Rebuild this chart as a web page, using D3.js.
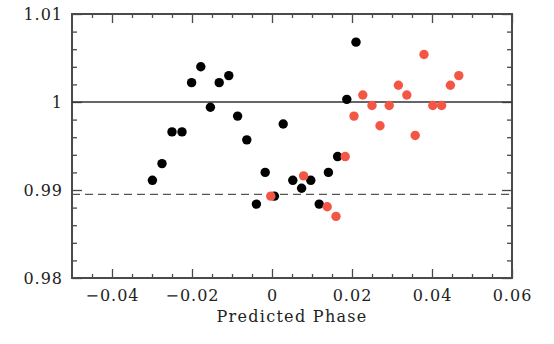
<!DOCTYPE html>
<html>
<head>
<meta charset="utf-8">
<script src="https://cdn.jsdelivr.net/npm/d3@7"></script>
<style>
  body { margin: 0; background: #fff; }
  text { font-family: "DejaVu Serif", serif; fill: #222; }
</style>
</head>
<body>
<div id="chart"></div>
<script>

// black points: predicted phase vs. relative flux
var blackPhase = [-0.0299, -0.0275, -0.0250, -0.0225, -0.0201, -0.0178, -0.0154, -0.0132,
  -0.0108, -0.0086, -0.0063, -0.0039, -0.0017, 0.0006, 0.0028, 0.0052, 0.0074,
  0.0097, 0.0118, 0.0141, 0.0164, 0.0187, 0.0210];
var blackFlux = [0.9911, 0.9930, 0.9966, 0.9966, 1.0022, 1.0040, 0.9994, 1.0022,
  1.0030, 0.9984, 0.9957, 0.9884, 0.9920, 0.9893, 0.9975, 0.9911, 0.9902,
  0.9911, 0.9884, 0.9920, 0.9938, 1.0003, 1.0068];

// red points
var redPhase = [-0.0003, 0.0079, 0.0138, 0.0160, 0.0183, 0.0205, 0.0227, 0.0250,
  0.0270, 0.0293, 0.0316, 0.0337, 0.0358, 0.0380, 0.0402, 0.0424, 0.0446, 0.0467];
var redFlux = [0.9893, 0.9916, 0.9881, 0.9870, 0.9938, 0.9984, 1.0008, 0.9996,
  0.9973, 0.9996, 1.0019, 1.0008, 0.9962, 1.0054, 0.9996, 0.9996, 1.0019, 1.0030];

var xMajor = [-0.04, -0.02, 0, 0.02, 0.04, 0.06];
var xLabels = ["\u22120.04", "\u22120.02", "0", "0.02", "0.04", "0.06"];
var yMajor = [0.98, 0.99, 1.00, 1.01];
var yLabels = ["0.98", "0.99", "1", "1.01"];
var refLevel = 1.0;
var dashLevel = 0.9895;

var svgWidth = 554;
var svgHeight = 344;
var margin = { top: 14, right: 42, bottom: 66, left: 72 };
var width = svgWidth - margin.left - margin.right;
var height = svgHeight - margin.top - margin.bottom;

var svg = d3.select("#chart").append("svg")
  .attr("width", svgWidth)
  .attr("height", svgHeight);

var chartGroup = svg.append("g")
  .attr("transform", `translate(${margin.left}, ${margin.top})`);

var xScale = d3.scaleLinear().domain([-0.05, 0.06]).range([0, width]);
var yScale = d3.scaleLinear().domain([0.98, 1.01]).range([height, 0]);

var xMinor = d3.range(-0.045, 0.0601, 0.005).filter(v => Math.abs(Math.round(v / 0.02) * 0.02 - v) > 1e-6);
var yMinor = d3.range(0.982, 1.0101, 0.002).filter(v => Math.abs(Math.round(v / 0.01) * 0.01 - v) > 1e-6);

var axisColor = "#4a4a4a";

function styleAxis(g) {
  g.select(".domain").remove();
  g.selectAll("line").attr("stroke", axisColor).attr("stroke-width", 1.3);
  g.selectAll("text").attr("font-size", "16px").attr("fill", "#222")
    .attr("letter-spacing", "1px");
}

// bottom
chartGroup.append("g").attr("transform", `translate(0, ${height})`)
  .call(d3.axisBottom(xScale).tickValues(xMinor).tickSize(-4).tickFormat(""))
  .call(styleAxis);
chartGroup.append("g").attr("transform", `translate(0, ${height})`)
  .call(d3.axisBottom(xScale).tickValues(xMajor).tickSize(-9).tickPadding(12)
    .tickFormat((d, i) => xLabels[i]))
  .call(styleAxis);
// top
chartGroup.append("g")
  .call(d3.axisTop(xScale).tickValues(xMinor).tickSize(-4).tickFormat(""))
  .call(styleAxis);
chartGroup.append("g")
  .call(d3.axisTop(xScale).tickValues(xMajor).tickSize(-9).tickFormat(""))
  .call(styleAxis);
// left
chartGroup.append("g")
  .call(d3.axisLeft(yScale).tickValues(yMinor).tickSize(-5).tickFormat(""))
  .call(styleAxis);
chartGroup.append("g")
  .call(d3.axisLeft(yScale).tickValues(yMajor).tickSize(-10).tickPadding(9)
    .tickFormat((d, i) => yLabels[i]))
  .call(styleAxis);
// right
chartGroup.append("g").attr("transform", `translate(${width}, 0)`)
  .call(d3.axisRight(yScale).tickValues(yMinor).tickSize(-5).tickFormat(""))
  .call(styleAxis);
chartGroup.append("g").attr("transform", `translate(${width}, 0)`)
  .call(d3.axisRight(yScale).tickValues(yMajor).tickSize(-10).tickFormat(""))
  .call(styleAxis);

// frame
chartGroup.append("rect")
  .attr("width", width)
  .attr("height", height)
  .attr("fill", "none")
  .attr("stroke", axisColor)
  .attr("stroke-width", 2);

// reference lines
chartGroup.append("line")
  .attr("x1", 0).attr("x2", width)
  .attr("y1", yScale(refLevel)).attr("y2", yScale(refLevel))
  .attr("stroke", "#333").attr("stroke-width", 1.3);

chartGroup.append("line")
  .attr("x1", 0).attr("x2", width)
  .attr("y1", yScale(dashLevel)).attr("y2", yScale(dashLevel))
  .attr("stroke", "#555").attr("stroke-width", 1.3)
  .attr("stroke-dasharray", "8,5");

// points
chartGroup.selectAll("circle.black")
  .data(blackPhase)
  .enter()
  .append("circle")
  .attr("class", "black")
  .attr("cx", d => xScale(d))
  .attr("cy", (d, i) => yScale(blackFlux[i]))
  .attr("r", 4.7)
  .attr("fill", "#000");

chartGroup.selectAll("circle.red")
  .data(redPhase)
  .enter()
  .append("circle")
  .attr("class", "red")
  .attr("cx", d => xScale(d))
  .attr("cy", (d, i) => yScale(redFlux[i]))
  .attr("r", 4.7)
  .attr("fill", "#f45646");

// axis title
svg.append("text")
  .attr("x", margin.left + width / 2)
  .attr("y", 322)
  .attr("text-anchor", "middle")
  .attr("font-size", "16px")
  .attr("letter-spacing", "1.3px")
  .text("Predicted Phase");

</script>
</body>
</html>
